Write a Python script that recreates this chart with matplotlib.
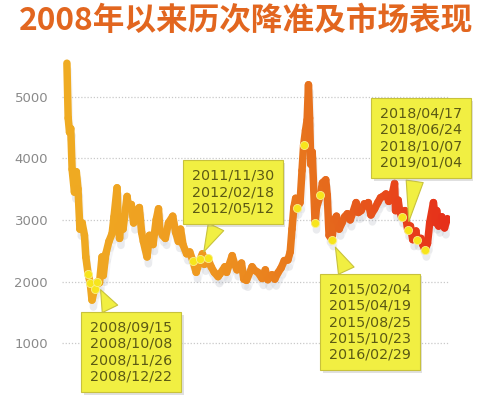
import matplotlib
matplotlib.use("Agg")
import matplotlib.pyplot as plt
import matplotlib.dates as mdates
import matplotlib.patheffects as pe
from matplotlib.collections import LineCollection
from matplotlib.colors import LinearSegmentedColormap
import numpy as np
import pandas as pd

plt.rcParams["font.family"] = ["DejaVu Sans"]

# Shanghai composite index
dates = [
    "2008-01-22", "2008-02-05", "2008-02-20", "2008-03-05", "2008-03-20", "2008-04-15",
    "2008-05-06", "2008-05-25", "2008-06-15", "2008-07-10", "2008-08-05", "2008-08-20",
    "2008-09-15", "2008-10-08", "2008-10-28", "2008-11-26", "2008-12-22", "2009-01-20",
    "2009-02-17", "2009-03-03", "2009-04-01", "2009-05-05", "2009-06-10", "2009-07-01",
    "2009-08-04", "2009-08-20", "2009-09-01", "2009-09-20", "2009-10-10", "2009-11-24",
    "2009-12-10", "2010-01-10", "2010-02-05", "2010-03-05", "2010-04-10", "2010-05-05",
    "2010-05-25", "2010-07-05", "2010-08-01", "2010-09-10", "2010-10-15", "2010-11-10",
    "2010-11-25", "2010-12-25", "2011-01-25", "2011-03-01", "2011-04-18", "2011-05-20",
    "2011-06-20", "2011-07-15", "2011-08-10", "2011-09-20", "2011-10-25", "2011-11-30",
    "2012-01-05", "2012-02-18", "2012-03-15", "2012-04-05", "2012-05-12", "2012-06-20",
    "2012-07-25", "2012-09-05", "2012-09-25", "2012-11-20", "2012-12-10", "2013-02-10",
    "2013-03-10", "2013-04-05", "2013-05-25", "2013-06-20", "2013-07-20", "2013-09-20",
    "2013-10-20", "2013-11-25", "2014-01-10", "2014-02-15", "2014-03-15", "2014-04-30",
    "2014-06-01", "2014-07-05", "2014-08-10", "2014-09-15", "2014-10-25", "2014-11-20",
    "2014-12-10", "2014-12-31", "2015-01-20", "2015-02-04", "2015-03-10", "2015-04-01",
    "2015-04-19", "2015-05-10", "2015-05-28", "2015-06-12", "2015-06-25", "2015-07-08",
    "2015-07-24", "2015-08-25", "2015-09-10", "2015-10-23", "2015-11-15", "2015-12-22",
    "2016-01-08", "2016-01-28", "2016-02-29", "2016-03-25", "2016-04-20", "2016-05-20",
    "2016-06-20", "2016-07-20", "2016-08-20", "2016-09-20", "2016-10-20", "2016-11-25",
    "2016-12-20", "2017-01-20", "2017-02-25", "2017-03-20", "2017-04-10", "2017-05-10",
    "2017-06-20", "2017-07-25", "2017-08-25", "2017-09-20", "2017-10-25", "2017-11-25",
    "2017-12-20", "2018-01-29", "2018-02-09", "2018-03-10", "2018-03-26", "2018-04-17",
    "2018-05-25", "2018-06-24", "2018-07-25", "2018-08-20", "2018-09-25", "2018-10-07",
    "2018-11-20", "2018-12-10", "2019-01-04", "2019-02-01", "2019-02-25", "2019-04-08",
    "2019-05-06", "2019-05-15", "2019-06-05", "2019-07-10", "2019-08-10", "2019-09-10",
]
index_values = [
    5540, 4650, 4420, 4480, 3820, 3450,
    3780, 3500, 2850, 2950, 2750, 2400,
    2120, 1980, 1700, 1880, 1990, 1980,
    2400, 2100, 2450, 2650, 2780, 3050,
    3520, 2900, 2700, 3050, 2850, 3380,
    3200, 3250, 2950, 3150, 3200, 2800,
    2650, 2400, 2750, 2600, 3000, 3180,
    2850, 2750, 2700, 2950, 3060, 2800,
    2650, 2850, 2600, 2450, 2480, 2330,
    2150, 2360, 2450, 2280, 2380, 2240,
    2150, 2080, 2120, 2240, 2150, 2420,
    2280, 2190, 2300, 2040, 2020, 2240,
    2180, 2150, 2050, 2190, 2030, 2110,
    2040, 2140, 2220, 2340, 2350, 2480,
    2850, 3200, 3350, 3190, 3280, 3800,
    4210, 4450, 4620, 5190, 4650, 3900,
    4100, 2950, 3200, 3400, 3600, 3650,
    3400, 2750, 2680, 3000, 3060, 2850,
    2950, 3050, 3100, 3000, 3120, 3280,
    3120, 3150, 3260, 3230, 3280, 3080,
    3180, 3280, 3360, 3380, 3420, 3300,
    3330, 3590, 3150, 3320, 3150, 3050,
    3150, 2840, 2900, 2680, 2820, 2680,
    2700, 2600, 2510, 2620, 2950, 3280,
    2950, 3150, 2900, 3050, 2870, 3020,
]

# reserve requirement ratio cuts
cut_groups = [
    ["2008-09-15", "2008-10-08", "2008-11-26", "2008-12-22"],
    ["2011-11-30", "2012-02-18", "2012-05-12"],
    ["2015-02-04", "2015-04-19", "2015-08-25", "2015-10-23", "2016-02-29"],
    ["2018-04-17", "2018-06-24", "2018-10-07", "2019-01-04"],
]

title = "2008年以来历次降准及市场表现"

x = mdates.date2num(pd.to_datetime(dates))
y = np.array(index_values, dtype=float)
lookup = dict(zip(dates, index_values))

fig = plt.figure(figsize=(4.91, 4.0), dpi=100)
fig.patch.set_facecolor("white")
ax = fig.add_axes([62 / 491, 0, 388 / 491, 345 / 400])
ax.set_facecolor("none")

ax.set_xlim(mdates.date2num(pd.Timestamp("2007-11-28")),
            mdates.date2num(pd.Timestamp("2019-10-10")))
ax.set_ylim(80, 5673)
ax.set_yticks([1000, 2000, 3000, 4000, 5000])
ax.set_xticks([])
for s in ax.spines.values():
    s.set_visible(False)
ax.tick_params(axis="y", length=0, pad=10, labelsize=9.5, labelcolor="#8a8a8a")
ax.grid(axis="y", color="#c9c9c9", linestyle=(0, (1, 1.5)), linewidth=0.9)

# gradient line, gold -> orange -> red
cmap = LinearSegmentedColormap.from_list(
    "idx", [(0.0, "#efab22"), (0.35, "#ef9a20"), (0.6, "#e8781d"),
            (0.72, "#e5641c"), (0.85, "#e8481b"), (1.0, "#e6301a")])
pts = np.column_stack([x, y]).reshape(-1, 1, 2)
segs = np.concatenate([pts[:-1], pts[1:]], axis=1)
mid = (x[:-1] + x[1:]) / 2
t = (mid - x.min()) / (x.max() - x.min())
lc = LineCollection(segs, colors=cmap(t), linewidths=5.4, capstyle="round",
                    joinstyle="round", zorder=3)
lc.set_path_effects([pe.SimpleLineShadow(offset=(1, -5), shadow_color="#aab0bb",
                                         alpha=0.13), pe.Normal()])
ax.add_collection(lc)

# dots
for grp in cut_groups:
    gx = mdates.date2num(pd.to_datetime(grp))
    gy = [lookup[d] for d in grp]
    ax.scatter(gx, gy, s=34, color="#f7e51c", edgecolors="#faf08a",
               linewidths=0.6, zorder=5)

# callout boxes
box_pos = [(131, 48), (233, 208), (370, 78), (421, 262)]
box_target = ["2008-12-22", "2012-02-18", "2016-02-29", "2018-06-24"]
for grp, pos, tgt in zip(cut_groups, box_pos, box_target):
    txt = "\n".join(d.replace("-", "/") for d in grp)
    ann = ax.annotate(
        txt,
        xy=(mdates.date2num(pd.Timestamp(tgt)), lookup[tgt]), xycoords="data",
        xytext=pos, textcoords="figure pixels",
        ha="center", va="center", fontsize=10.3, color="#5c5a14",
        linespacing=1.22,
        bbox=dict(boxstyle="square,pad=0.6", fc="#f1ef42", ec="#c8c23c", lw=0.8),
        arrowprops=dict(arrowstyle="wedge,tail_width=1.2,shrink_factor=0.5",
                        fc="#f1ef42", ec="#c8c23c", lw=0.8, shrinkB=6),
        zorder=6,
    )
    ann.get_bbox_patch().set_path_effects(
        [pe.SimplePatchShadow(offset=(2, -2), shadow_rgbFace="#999999", alpha=0.3),
         pe.Normal()])

fig.text(0.5, 0.947, title, ha="center", va="center", fontsize=22.8,
         fontweight="bold", color="#e2661f", family=["Noto Sans CJK SC", "DejaVu Sans"])

fig.savefig("out.png", dpi=100, facecolor="white")
